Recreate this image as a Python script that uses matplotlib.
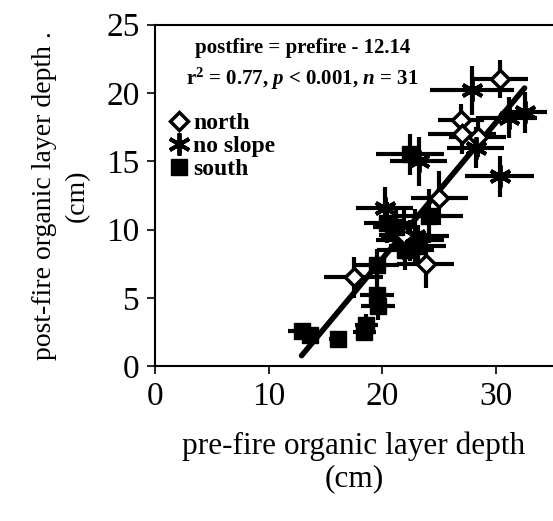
import matplotlib
matplotlib.use("Agg")
import matplotlib.pyplot as plt
import numpy as np

plt.rcParams['font.family'] = ['Liberation Serif', 'DejaVu Serif']
plt.rcParams['mathtext.fontset'] = 'custom'
plt.rcParams['mathtext.rm'] = 'Liberation Serif:bold'
plt.rcParams['mathtext.it'] = 'Liberation Serif:italic:bold'

# pre-fire depth, post-fire depth, and error bars (cm)
north_x = [30.3, 26.9, 28.4, 27.0, 17.5, 23.8, 22.4, 25.0, 21.9]
north_y = [21.0, 18.0, 16.8, 17.0, 6.5, 7.5, 9.2, 12.3, 9.6]
north_xerr = [2.5, 2.0, 2.5, 3.0, 2.6, 2.5, 3.0, 2.5, 2.2]
north_yerr = [1.4, 1.2, 1.5, 1.5, 1.5, 1.8, 1.5, 2.0, 1.8]

slope_x = [27.9, 31.1, 30.3, 23.2, 20.2, 22.9, 28.2, 32.5]
slope_y = [20.2, 18.2, 13.9, 15.0, 11.6, 9.5, 16.0, 18.6]
slope_xerr = [3.7, 2.5, 3.0, 2.5, 2.5, 3.0, 2.5, 2.0]
slope_yerr = [1.8, 1.5, 1.5, 1.8, 1.5, 2.0, 1.5, 1.5]

south_x = [22.4, 20.4, 24.1, 23.1, 19.5, 19.5, 19.6, 18.6, 16.1, 12.9, 13.6, 18.4, 21.2, 22.0]
south_y = [15.5, 10.5, 11.0, 8.8, 7.4, 5.2, 4.4, 3.0, 2.0, 2.6, 2.3, 2.5, 10.2, 8.5]
south_xerr = [3.0, 2.0, 3.0, 2.5, 2.0, 1.5, 1.5, 1.0, 0.8, 1.2, 0.8, 1.0, 2.0, 2.5]
south_yerr = [1.5, 1.5, 2.0, 1.5, 1.2, 1.0, 1.0, 0.8, 0.5, 0.5, 0.5, 0.5, 1.5, 1.5]

intercept = -12.14
eq_text = 'postfire = prefire - 12.14'
stat_text = r'r$^\mathregular{2}$ = 0.77, $\mathit{p}$ < 0.001, $\mathit{n}$ = 31'

fig = plt.figure(figsize=(5.53, 5.21), dpi=100)
ax = fig.add_axes([0.28, 0.2975, 0.72, 0.655])

eb = dict(fmt='none', ecolor='black', elinewidth=3, capsize=0, zorder=2)
ax.errorbar(north_x, north_y, xerr=north_xerr, yerr=north_yerr, **eb)
ax.errorbar(slope_x, slope_y, xerr=slope_xerr, yerr=slope_yerr, **eb)
ax.errorbar(south_x, south_y, xerr=south_xerr, yerr=south_yerr, **eb)

all_x = np.array(north_x + slope_x + south_x)
fit_x = np.array([all_x.min(), all_x.max()])
ax.plot(fit_x, fit_x + intercept, color='black', lw=4, solid_capstyle='round', zorder=3)

ax.plot(north_x, north_y, 'D', ms=9, mfc='white', mec='black', mew=2.5, ls='none', zorder=4, label='north')
ax.plot(slope_x, slope_y, marker=(6, 2, 0), ms=16, mec='black', mew=2.8, ls='none', zorder=4, label='no slope')
ax.plot(south_x, south_y, 's', ms=12, color='black', ls='none', zorder=4, label='south')

ax.set_xlim(0, 35)
ax.set_ylim(0, 25)
ax.set_xticks([0, 10, 20, 30])
ax.set_yticks([0, 5, 10, 15, 20, 25])
ax.tick_params(direction='out', length=6, width=1.2, labelsize=24, pad=5)
ax.spines['right'].set_visible(False)
for s in ['left', 'bottom', 'top']:
    ax.spines[s].set_linewidth(1.5)

ax.set_xlabel('pre-fire organic layer depth\n(cm)', fontsize=22.5, labelpad=14, linespacing=1.15)
ax.set_ylabel('post-fire organic layer depth .\n(cm)', fontsize=20, labelpad=12, linespacing=1.4)

ax.text(0.37, 0.96, eq_text, transform=ax.transAxes, ha='center', va='top',
        fontsize=15, fontweight='bold')
ax.text(0.37, 0.88, stat_text, transform=ax.transAxes, ha='center', va='top',
        fontsize=15, fontweight='bold')

ax.legend(loc='upper left', bbox_to_anchor=(-0.01, 0.79), frameon=False,
          handletextpad=0.1, handlelength=1.0, labelspacing=0.05, borderpad=0.2,
          prop={'size': 17, 'weight': 'bold'})

fig.savefig('out.png', dpi=100)
